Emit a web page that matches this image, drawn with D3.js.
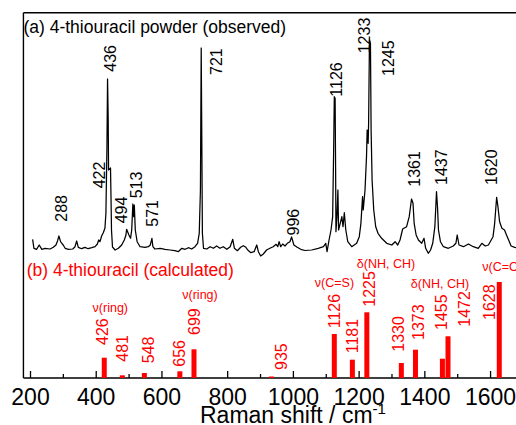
<!DOCTYPE html>
<html>
<head>
<meta charset="utf-8">
<script src="https://cdn.jsdelivr.net/npm/d3@7"></script>
<style>
  body { margin: 0; background: #fff; }
  svg { display: block; }
  text { font-family: "Liberation Sans", Arial, Helvetica, sans-serif; }
</style>
</head>
<body>
<svg id="chart" width="516" height="425"></svg>
<script>
// ---- (a) observed Raman spectrum of 4-thiouracil powder ----
const obsShift = [
  208, 212, 220, 228, 236, 246, 261, 271, 279, 284, 288, 293, 297, 301, 307, 317, 330, 337, 342, 347,
  357, 367, 377, 388, 398, 405, 409, 413, 418, 423, 428, 431, 434, 436, 438, 439, 445, 446.5, 448, 451,
  459, 469, 479, 487, 492, 494, 501, 506, 509.5, 513, 515.6, 517.4, 520.4, 526, 535, 550, 560, 566, 571, 574,
  580, 596, 611, 626, 641, 651, 662, 672, 682, 692, 702, 710, 715, 718.6, 721, 723, 724.6, 728, 738, 748,
  758, 768, 778, 788, 799, 809, 817, 822, 831, 841, 849, 857, 862.5, 872, 882, 890, 895, 902, 910, 920,
  930, 940, 949, 954, 958, 963, 969, 976, 983, 991, 996, 1003, 1013, 1024, 1037, 1057, 1077, 1093, 1100, 1104,
  1110, 1116, 1121, 1124, 1126, 1128.5, 1130, 1131, 1134, 1137, 1139, 1144, 1149, 1152.5, 1156.5, 1161, 1167, 1179, 1194, 1202,
  1207, 1212, 1214, 1219.5, 1224, 1226, 1229, 1230.4, 1233, 1236, 1238, 1241, 1246, 1252, 1259, 1270, 1285.5, 1301, 1311, 1319,
  1326, 1334, 1346, 1354, 1361, 1365.5, 1369, 1375, 1382, 1392, 1399, 1404, 1412, 1419, 1425.5, 1432, 1437, 1440, 1443, 1449,
  1458, 1473, 1488, 1496, 1500, 1505.5, 1519, 1534, 1549, 1564, 1575, 1585, 1595, 1609, 1614, 1620, 1624, 1629, 1636, 1644,
  1650, 1656.5, 1664, 1675, 1685, 1697
];
const obsIntensity = [
  10.7, 1.7, 0.7, 5, 0.7, 1.7, 1, 2.7, 5, 9.3, 14, 8.3, 6.7, 5, 1.7, 0.7, 1, 3.3, 9, 2.7,
  1.3, 2.7, 1.3, 2.3, 3.3, 6, 10, 8.3, 14, 17.3, 21.7, 36.7, 100, 171, 130, 80, 82, 53, 20, 3,
  0, 1.7, 5, 10, 15, 20.7, 15, 11.7, 20, 46, 33.3, 45, 20, 8.3, 3.3, 2.7, 3.3, 5, 11.7, 3.3,
  1, 1.7, 0.7, 0, -0.7, -1.7, 1.7, 0.7, 2.3, 1, 3.3, 6.7, 16.7, 60, 202, 100, 16.7, 1.7, 1, 3.3,
  1.7, 4, 1.7, 3.3, 0.7, 3.3, 10.7, 1.7, -0.7, 2.7, 4.3, 2.7, 0, -2.7, -1.7, 5, -1.7, -6, -4, 0,
  1.7, 3.3, 5.7, 3.3, 8.3, 3.3, 6, 4, 6.7, 8.3, 13, 5, 2.7, 0.7, -0.5, 0, 1.7, 3.3, 6.7, -1.7,
  10, 20, 33.3, 100, 153.3, 151.7, 80, 18.3, 33.3, 60, 20, 26.7, 33.3, 23.3, 37.3, 20, 8.3, 3.3, 6.7, 13.3,
  26.7, 53.3, 40, 60, 93.3, 120, 106.7, 126.7, 210, 206.7, 120, 70, 40, 23.3, 16.7, 11.7, 6.7, 5, 8.3, 5,
  10, 21, 23.3, 33.3, 51, 46.7, 26.7, 15, 10, 6.7, 11.7, 1.7, -3.3, 0, 6.7, 23.3, 58.3, 43.3, 20, 8.3,
  3.3, 1.7, 4, 6.7, 15, 5, 3.3, 6, 3.3, 1.7, 6.7, 4, 5, 13.3, 26.7, 52.7, 43.3, 28.3, 21.7, 20,
  15, 10, 4, 2.7, 1.7, 2.7
];
// peak annotations of the observed spectrum
const obsPeakLabels = ["288", "422", "436", "494", "513", "571", "721", "996", "1126", "1233", "1245", "1361", "1437", "1620"];
const obsPeakLabelShift = [295.3, 412.1, 445.6, 476.3, 524.7, 572.8, 768.2, 1000.4, 1133.3, 1216.4, 1290.4, 1369.2, 1450.1, 1603.5];
const obsPeakLabelLevel = [28.3, 61.7, 178.3, 26.7, 51.7, 23.3, 175, 14.5, 153.3, 196.7, 174, 63.3, 65, 65];

// ---- (b) calculated Raman activities ----
const calcShift = [426, 481, 548, 656, 699, 935, 1126, 1181, 1225, 1330, 1373, 1455, 1472, 1628];
const calcActivity = [20.3, 2.7, 5, 6.7, 28.7, 1.5, 44, 18.3, 65.7, 15, 28.3, 19.3, 41.7, 96];
const calcLabelShift = [420.6, 480.9, 558.5, 654.9, 699.1, 964.4, 1126, 1180.8, 1233.7, 1322, 1382.8, 1450.7, 1520.7, 1597.7];
const calcLabelLevel = [33, 16.3, 14.7, 11.3, 43, 8, 49.7, 24.7, 71.3, 26.3, 38, 48, 51.3, 58];

// vibrational mode assignments
const modeNames = ["\u03bd(ring)", "\u03bd(ring)", "\u03bd(C=S)", "\u03b4(NH, CH)", "\u03b4(NH, CH)", "\u03bd(C=O)"];
const modeShift = [444.4, 717.3, 1126.6, 1283.3, 1447.6, 1576.4];
const modeLevel = [65.6, 78.6, 90.9, 110.3, 89.6, 106.9];
const modeAnchor = ["middle", "middle", "middle", "middle", "middle", "start"];

// axis
const majorTicks = [200, 400, 600, 800, 1000, 1200, 1400, 1600];
const minorTicks = [300, 500, 700, 900, 1100, 1300, 1500, 1700];

// ---- drawing ----
const svg = d3.select("#chart");
const pxPerUnit = 0.32862;
const x = d3.scaleLinear().domain([180, 1700]).range([30 - 20 * pxPerUnit, 30 + 1500 * pxPerUnit]);
const yObs = d3.scaleLinear().domain([0, 210]).range([250, 40]);
const yCalc = d3.scaleLinear().domain([0, 100]).range([378, 278]);

const left = x(180), axisY = yCalc(0), topY = 12.7;

// frame
svg.append("line").attr("x1", left).attr("x2", 516).attr("y1", topY).attr("y2", topY)
  .attr("stroke", "#000").attr("stroke-width", 1.4);
svg.append("line").attr("x1", left).attr("x2", left).attr("y1", topY).attr("y2", axisY)
  .attr("stroke", "#000").attr("stroke-width", 1.4);
svg.append("line").attr("x1", left).attr("x2", 516).attr("y1", axisY).attr("y2", axisY)
  .attr("stroke", "#000").attr("stroke-width", 1.4);

// bottom axis: major ticks with labels, minor ticks without
const gMajor = svg.append("g").attr("transform", `translate(0,${axisY})`)
  .call(d3.axisBottom(x).tickValues(majorTicks).tickSize(-7).tickPadding(10.7).tickFormat(d3.format("d")));
gMajor.select(".domain").remove();
gMajor.selectAll(".tick line").attr("stroke-width", 1.3);
gMajor.selectAll(".tick text").attr("font-size", 23).attr("fill", "#000")
  .style("font-family", '"Liberation Sans", Arial, sans-serif');

const gMinor = svg.append("g").attr("transform", `translate(0,${axisY})`)
  .call(d3.axisBottom(x).tickValues(minorTicks).tickSize(-4).tickFormat(""));
gMinor.select(".domain").remove();
gMinor.selectAll(".tick line").attr("stroke-width", 1.3);

// axis title
const title = svg.append("text").attr("x", 200).attr("y", 422.5).attr("font-size", 23).attr("fill", "#000");
title.append("tspan").text("Raman shift / cm");
title.append("tspan").attr("dy", -9).attr("font-size", 15).text("-1");

// observed spectrum
const obs = obsShift.map((s, i) => [s, obsIntensity[i]]);
svg.append("path").datum(obs)
  .attr("d", d3.line().x(d => x(d[0])).y(d => yObs(d[1])))
  .attr("fill", "none").attr("stroke", "#000").attr("stroke-width", 1.25).attr("stroke-linejoin", "round");

// rotated peak labels (baseline offset so glyphs centre on the anchor)
const capHalf = 0.716 * 16 / 2;
svg.append("g").selectAll("text").data(obsPeakLabels).join("text")
  .attr("transform", (d, i) => `translate(${x(obsPeakLabelShift[i]) + capHalf},${yObs(obsPeakLabelLevel[i])}) rotate(-90)`)
  .attr("font-size", 16).attr("fill", "#000").text(d => d);

svg.append("text").attr("x", left).attr("y", 33.3).attr("font-size", 17.5).attr("fill", "#000")
  .text("(a) 4-thiouracil powder (observed)");

// calculated bars
const barW = 5;
svg.append("g").selectAll("rect").data(calcShift).join("rect")
  .attr("x", d => x(d) - barW / 2)
  .attr("width", barW)
  .attr("y", (d, i) => yCalc(calcActivity[i]))
  .attr("height", (d, i) => yCalc(0) - yCalc(calcActivity[i]))
  .attr("fill", "#ff0000");

svg.append("g").selectAll("text").data(calcShift).join("text")
  .attr("transform", (d, i) => `translate(${x(calcLabelShift[i]) + capHalf},${yCalc(calcLabelLevel[i])}) rotate(-90)`)
  .attr("font-size", 16).attr("fill", "#ff0000").text(d => d);

svg.append("g").selectAll("text").data(modeNames).join("text")
  .attr("x", (d, i) => x(modeShift[i]))
  .attr("y", (d, i) => yCalc(modeLevel[i]))
  .attr("text-anchor", (d, i) => modeAnchor[i])
  .attr("font-size", 12.5).attr("fill", "#ff0000").text(d => d);

svg.append("text").attr("x", 26.7).attr("y", 276).attr("font-size", 17.5).attr("fill", "#ff0000")
  .text("(b) 4-thiouracil (calculated)");
</script>
</body>
</html>
